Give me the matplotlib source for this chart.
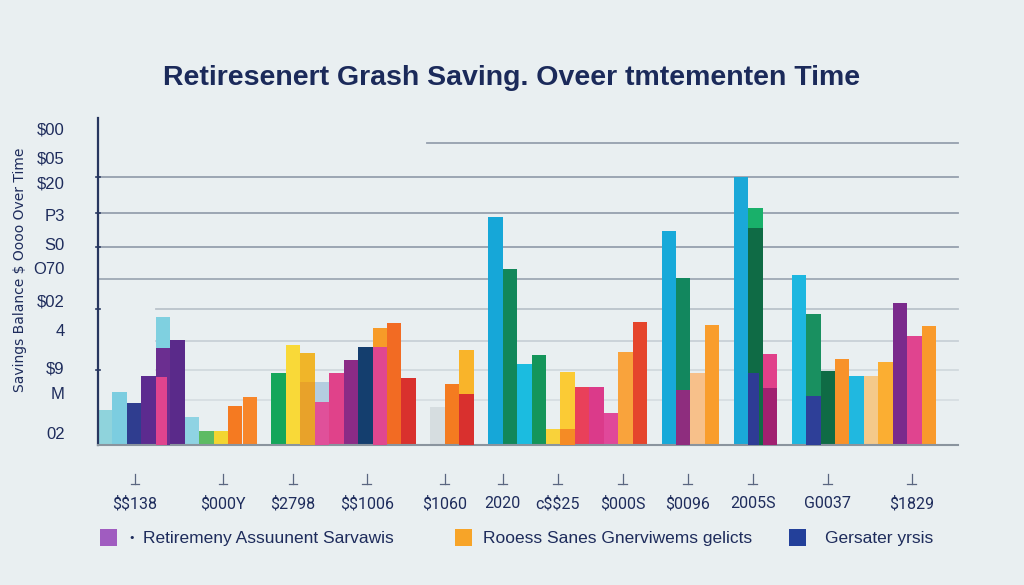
import matplotlib
matplotlib.use('Agg')
import matplotlib.pyplot as plt
from matplotlib.patches import Rectangle

plt.rcParams['text.parse_math'] = False

NAVY = '#1e2c5c'
GRID = '#8c97a6'
BG = '#e9eff1'

# ---- data (one slot per bar, 0 = empty slot) ----
back_vals = [10.5, 15.9, 12.6, 20.7, 38.4, 31.5,
             8.4, 4.2, 4.2, 11.7, 14.4, 0,
             21.6, 30.0, 27.6, 18.9, 21.6, 25.5,
             29.4, 35.1, 36.6, 20.1, 0, 11.4,
             18.3, 28.5, 0, 68.5, 52.9, 24.3,
             27.0, 4.8, 21.9, 17.4, 17.4, 9.6,
             27.9, 36.9, 0, 64.3, 50.2, 21.6,
             36.0, 0, 80.5, 71.2, 27.3, 0,
             51.1, 39.3, 22.2, 25.8, 20.7, 20.7,
             24.9, 42.6, 32.7, 35.7, 0, 0]
back_colors = ['#8fd3dc', '#7ccde0', '#2f3d8f', '#5c2b8f', '#7fd0e0', '#5a2a8a',
               '#8fd3e3', '#5dbb63', '#f3d531', '#f57a21', '#f7862a', 'none',
               '#14a65a', '#f9d938', '#f0b529', '#b4cde0', '#e0428a', '#8b2b86',
               '#143e6e', '#f79b28', '#f26b23', '#d9312d', 'none', '#d6dde0',
               '#f47b20', '#f9b42a', 'none', '#16a7d8', '#12875a', '#1bbce0',
               '#14955a', '#f9d23a', '#fbcb35', '#e9405a', '#db3a8a', '#e0489a',
               '#f9a33c', '#e5452c', 'none', '#17a9d9', '#12875e', '#f7c08a',
               '#f99d2c', 'none', '#1aa8d8', '#19b06a', '#e0408a', 'none',
               '#1db7e0', '#199060', '#0f6b45', '#f8922a', '#20b8e0', '#f4c98a',
               '#fbae32', '#7a2a8c', '#e0448f', '#f99a2c', 'none', 'none']

mid_slots = [4, 14, 15, 19, 25, 32, 40, 45, 46, 49]
mid_vals = [29.1, 18.9, 12.9, 29.4, 15.3, 4.8, 16.5, 65.2, 17.1, 14.7]
mid_colors = ['#6b2e90', '#e8a22a', '#e0509a', '#e0478f', '#d9302e',
              '#f58b25', '#8e2d7e', '#0f6b45', '#a02070', '#2e3f98']

front_slots = [4, 45]
front_vals = [20.4, 21.6]
front_colors = ['#e0448e', '#2e3b95']

xtick_pos = [2.56, 8.65, 13.5, 18.6, 24.0, 28.0, 31.8, 36.3, 40.8, 45.3, 50.5, 56.3]
xtick_labels = ['$$138', '$000Y', '$2798', '$$1006', '$1060', '2020',
                'c$$25', '$000S', '$0096', '2005S', 'G0037', '$1829']
ytick_pos = [94.9, 86.2, 78.7, 69.1, 60.4, 53.2, 43.5, 34.5, 23.4, 15.6, 3.6]
ytick_labels = ['$00', '$05', '$20', 'P3', 'S0', 'O70', '$02', '4', '$9', 'M', '02']

legend_labels = ['Retiremeny Assuunent Sarvawis', 'Rooess Sanes Gnerviwems gelicts',
                 'Gersater yrsis']
legend_colors = ['#a05cc0', '#f7a428', '#23409a']

# ---- figure ----
W, H = 1024, 585
fig = plt.figure(figsize=(W / 100, H / 100), dpi=100)
fig.patch.set_facecolor(BG)

nslot = len(back_vals)
ax = fig.add_axes([98 / W, 140 / H, 867 / W, 327 / H])
ax.set_facecolor('none')
ax.set_xlim(0, nslot)
ax.set_ylim(0, 98.2)

# gridlines (value, x-start in slots, alpha)
for yv, x0, a in [(90.7, 22.8, 0.9), (80.5, 0.1, 0.9), (69.7, 0.1, 0.9), (59.5, 0.1, 0.9),
                  (49.8, 0.1, 0.8), (40.8, 4.0, 0.5), (31.2, 4.0, 0.35),
                  (22.5, 4.0, 0.25), (13.5, 4.0, 0.2)]:
    ax.plot([x0, 59.5], [yv, yv], color=GRID, lw=1.3, alpha=a, zorder=1)

xs = list(range(nslot))
ax.bar(xs, back_vals, width=1.0, align='edge', color=back_colors, lw=0, zorder=2)
ax.bar(mid_slots, mid_vals, width=1.0, align='edge', color=mid_colors, lw=0, zorder=3)
ax.bar(front_slots, front_vals, width=0.75, align='edge', color=front_colors, lw=0, zorder=4)

for s in ['top', 'right']:
    ax.spines[s].set_visible(False)
ax.spines['left'].set_color('#27365f')
ax.spines['left'].set_linewidth(1.6)
ax.spines['bottom'].set_color('#8a949e')
ax.spines['bottom'].set_linewidth(1.5)
ax.spines['bottom'].set_bounds(0, 59.5)

ax.set_yticks(ytick_pos)
ax.set_yticklabels(ytick_labels, fontsize=12, color=NAVY,
                   family=['Liberation Sans', 'DejaVu Sans'])
ax.tick_params(axis='y', length=0, pad=24)

# x labels on a common baseline
ax.set_xticks(xtick_pos)
ax.set_xticklabels([])
ax.tick_params(axis='x', length=0)
xtr = ax.get_xaxis_transform()
for xp, lab in zip(xtick_pos, xtick_labels):
    ax.text(xp, (445 - 508) / 327, lab, transform=xtr, ha='center', va='baseline',
            fontsize=11.5, color=NAVY, family=['Roboto', 'DejaVu Sans'])
    # little marks above the labels
    ax.plot([xp, xp], [-8.8, -11.6], color='#5a6680', lw=0.9, clip_on=False)
    ax.plot([xp - 0.3, xp + 0.3], [-11.6, -11.6], color='#5a6680', lw=0.9, clip_on=False)

# small ticks on the y axis at gridlines
for yv in [80.5, 69.7, 59.5, 40.8, 22.5]:
    ax.plot([-0.15, 0.15], [yv, yv], color='#27365f', lw=1.2, clip_on=False)

fig.text(20 / W, 1 - 270 / H, 'Savings Balance $ Oooo Over Time', rotation=90,
         ha='center', va='center', fontsize=10, color=NAVY)

fig.text(512 / W, 1 - 78 / H, 'Retiresenert Grash Saving. Oveer tmtementen Time',
         ha='center', va='center', fontsize=20.5, fontweight='bold', color='#1b2a5a',
         family=['Liberation Sans', 'DejaVu Sans'])

# legend row
sq_x = [100, 455, 789]
tx_x = [143, 483, 825]
for sx, tx, lab, c in zip(sq_x, tx_x, legend_labels, legend_colors):
    fig.patches.append(Rectangle((sx / W, 1 - 546 / H), 17 / W, 17 / H,
                                 transform=fig.transFigure, facecolor=c, lw=0))
    fig.text(tx / W, 1 - 538 / H, lab, ha='left', va='center', fontsize=12.5,
             color=NAVY, family=['Liberation Sans', 'DejaVu Sans'])
fig.text(132 / W, 1 - 538 / H, '•', ha='center', va='center', fontsize=8, color=NAVY)

fig.savefig('out.png', dpi=100, facecolor=BG)
